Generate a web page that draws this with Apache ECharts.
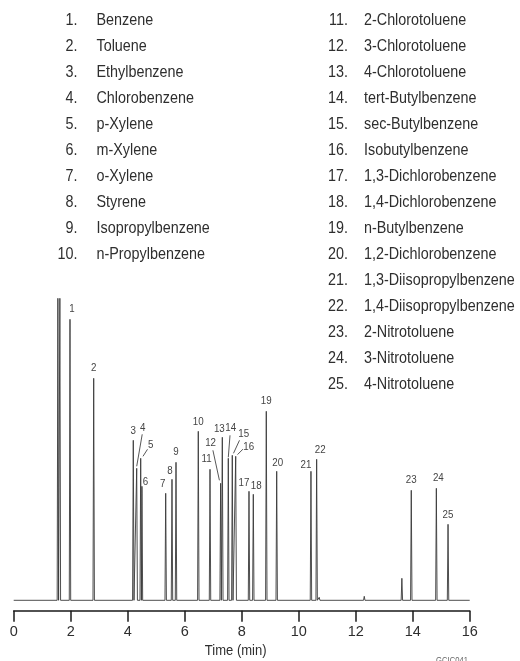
<!DOCTYPE html>
<html>
<head>
<meta charset="utf-8">
<title>Aromatic compounds – GC chromatogram</title>
<script src="https://cdn.jsdelivr.net/npm/echarts@6/dist/echarts.min.js"></script>
<style>
  html, body { margin: 0; padding: 0; background: #fff; }
  #chart { width: 520px; height: 661px; }
</style>
</head>
<body>
<div id="chart"></div>
<script>
// Peak identities, in elution order
const compounds = [
  'Benzene', 'Toluene', 'Ethylbenzene', 'Chlorobenzene', 'p-Xylene',
  'm-Xylene', 'o-Xylene', 'Styrene', 'Isopropylbenzene', 'n-Propylbenzene',
  '2-Chlorotoluene', '3-Chlorotoluene', '4-Chlorotoluene', 'tert-Butylbenzene',
  'sec-Butylbenzene', 'Isobutylbenzene', '1,3-Dichlorobenzene',
  '1,4-Dichlorobenzene', 'n-Butylbenzene', '1,2-Dichlorobenzene',
  '1,3-Diisopropylbenzene', '1,4-Diisopropylbenzene', '2-Nitrotoluene',
  '3-Nitrotoluene', '4-Nitrotoluene'
];

// Retention time (min) and detector response of each numbered peak
const retentionTimes = [
  1.975, 2.807, 4.196, 4.316, 4.456, 4.50, 5.333, 5.554, 5.695, 6.477,
  6.888, 7.26, 7.32, 7.53, 7.67, 7.79, 8.256, 8.407, 8.863, 9.228,
  10.43, 10.63, 13.95, 14.83, 15.24
];
const peakHeights = [
  281, 222, 160, 132, 142, 114, 107, 121, 138, 169,
  131, 117, 163, 142, 145, 144, 109, 106, 189, 129,
  129, 141, 110, 112, 76
];

// Solvent front and small unnumbered peaks
const otherTimes = [1.55, 1.62, 10.72, 12.3, 13.62];
const otherHeights = [302, 302, 3, 4, 22];

// Time axis
const timeMin = 0, timeMax = 16, timeStep = 2;
const axisTitle = 'Time (min)';
const figureCode = 'GCIC041';

// ---- layout / style ----
const FONT = "'Liberation Sans', Arial, sans-serif";
const NARROW = 0.85;           // horizontal squeeze giving a condensed face
const peakHalfWidth = 0.025;   // min, half base width of a drawn peak
// label centre offsets (px) from each peak apex
const labelOffsets = [
  [2, -10], [0, -10], [0, -9], [6, -40], [10, -13],
  [3.5, -4], [-3, -9], [-2, -8], [0, -10], [0, -9],
  [-3.5, -10.5], [-10, -40], [-3, -8], [2.5, -30], [11.5, -21],
  [13, -9], [-5, -8], [3, -8], [0, -10], [1, -8.5],
  [-5, -6], [3.5, -9], [0, -10], [2, -10], [0, -9]
];
// leader lines (px, relative to apex): [x1, y1, x2, y2]
const leaders = {
  3: [5.5, -34, 0, -2],
  4: [6.8, -9, 2.3, -2],
  11: [-7.7, -33, -1.2, -3],
  13: [1.7, -23, 0, -1],
  14: [7.2, -15, 1.2, -2],
  15: [7.3, -7.2, 1.8, -1.7]
};

// Build the detector trace: each peak drawn as a narrow spike on the baseline
const allPeaks = retentionTimes.map((t, i) => [t, peakHeights[i]])
  .concat(otherTimes.map((t, i) => [t, otherHeights[i]]))
  .sort((a, b) => a[0] - b[0]);
const trace = [[timeMin, 0]];
allPeaks.forEach(([t, h]) => {
  trace.push([t - peakHalfWidth, 0], [t, h], [t + peakHalfWidth, 0]);
});
trace.push([timeMax, 0]);

// condensed text element anchored at (x, y)
function narrowText(text, x, y, size, align, fill, squeeze) {
  return {
    type: 'text', x: x, y: y, scaleX: squeeze || NARROW, silent: true,
    style: { text: text, x: 0, y: 0, align: align, verticalAlign: 'middle',
             font: size + 'px ' + FONT, fill: fill }
  };
}

// Compound list drawn as two text columns
const listGraphics = [];
const rowStep = 26, firstRow = 20.7;
compounds.forEach((name, i) => {
  const col = i < 10 ? 0 : 1;
  const row = col === 0 ? i : i - 10;
  const numRight = col === 0 ? 77.5 : 348;
  const nameLeft = col === 0 ? 96.5 : 364;
  const y = firstRow + row * rowStep;
  listGraphics.push(narrowText((i + 1) + '.', numRight, y, 16.5, 'right', '#2e2e2e', 0.87));
  listGraphics.push(narrowText(name, nameLeft, y, 16.5, 'left', '#2e2e2e', 0.87));
});
listGraphics.push(narrowText(axisTitle, 235.7, 651, 15.5, 'center', '#2e2e2e', 0.84));
listGraphics.push(narrowText(figureCode, 452, 661, 9, 'center', '#666'));

const chart = echarts.init(document.getElementById('chart'), null, { renderer: 'canvas' });
chart.setOption({
  animation: false,
  backgroundColor: '#fff',
  grid: { left: 13.7, right: 50.3, top: 298, bottom: 50.3, containLabel: false },
  xAxis: {
    type: 'value', min: timeMin, max: timeMax, interval: timeStep,
    axisLine: { show: true, onZero: false, lineStyle: { color: '#1a1a1a', width: 1.5 } },
    axisTick: { show: true, length: 11, lineStyle: { color: '#1a1a1a', width: 1.5 } },
    axisLabel: { margin: 14, fontFamily: FONT, fontSize: 14.5, color: '#2e2e2e' },
    splitLine: { show: false }
  },
  yAxis: {
    type: 'value', min: -10.4, max: 302.3, show: false,
    splitLine: { show: false }
  },
  graphic: listGraphics,
  series: [
    {
      type: 'line',
      data: trace,
      showSymbol: false,
      symbol: 'none',
      clip: true,
      lineStyle: { color: '#3a3a3a', width: 0.9 },
      silent: true
    },
    {
      type: 'custom',
      data: retentionTimes.map((t, i) => [t, peakHeights[i]]),
      clip: false,
      silent: true,
      renderItem: function (params, api) {
        const i = params.dataIndex;
        const p = api.coord([api.value(0), api.value(1)]);
        const off = labelOffsets[i];
        const children = [
          narrowText(String(i + 1), p[0] + off[0], p[1] + off[1], 11.5, 'center', '#444')
        ];
        const l = leaders[i];
        if (l) {
          children.push({
            type: 'line',
            shape: { x1: p[0] + l[0], y1: p[1] + l[1], x2: p[0] + l[2], y2: p[1] + l[3] },
            style: { stroke: '#444', lineWidth: 0.9 }
          });
        }
        return { type: 'group', children: children };
      }
    }
  ]
});
</script>
</body>
</html>
